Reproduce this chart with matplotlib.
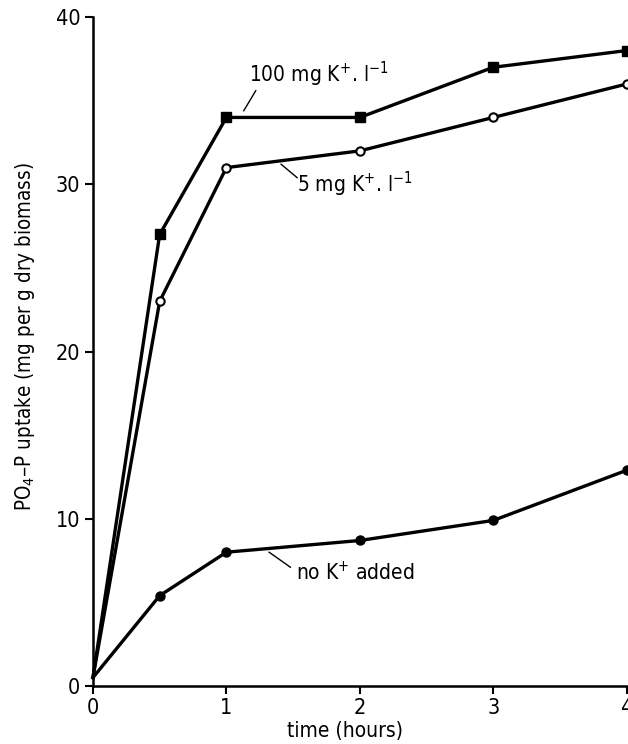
import matplotlib
matplotlib.use("Agg")
import matplotlib.pyplot as plt

plt.rcParams["font.family"] = ["DejaVu Sans"]
plt.rcParams["font.stretch"] = "condensed"
plt.rcParams["mathtext.fontset"] = "dejavusans"

# time in hours
hours = [0, 0.5, 1, 2, 3, 4]
# PO4-P uptake, mg per g dry biomass
k100 = [0.5, 27, 34, 34, 37, 38]
k5 = [0.5, 23, 31, 32, 34, 36]
no_k = [0.5, 5.4, 8, 8.7, 9.9, 12.9]

fig = plt.figure(figsize=(6.28, 7.44), dpi=100)
ax = fig.add_axes([0.148, 0.078, 0.85, 0.899])

# no marker drawn at the origin
marks = [1, 2, 3, 4, 5]
ax.plot(hours, k100, color="black", lw=2.4, marker="s", ms=6.5, markevery=marks,
        mfc="black", mec="black", clip_on=False, zorder=3)
ax.plot(hours, k5, color="black", lw=2.4, marker="o", ms=6, markevery=marks,
        mfc="white", mec="black", mew=1.5, clip_on=False, zorder=3)
ax.plot(hours, no_k, color="black", lw=2.4, marker="o", ms=6.5, markevery=marks,
        mfc="black", mec="black", clip_on=False, zorder=3)

ax.set_xlim(0, 4)
ax.set_ylim(0, 40)
ax.set_xticks([0, 1, 2, 3, 4])
ax.set_yticks([0, 10, 20, 30, 40])
ax.tick_params(direction="out", length=6, width=1.5, labelsize=15.5, pad=3)

for side in ["top", "right"]:
    ax.spines[side].set_visible(False)
for side in ["left", "bottom"]:
    ax.spines[side].set_linewidth(1.8)

ax.set_xlabel("time (hours)", fontsize=15)
ax.xaxis.set_label_coords(0.472, -0.052)
ax.set_ylabel("PO$_4$–P uptake (mg per g dry biomass)", fontsize=14.8)
ax.yaxis.set_label_coords(-0.105, 0.522)

# labels with leader lines
ax.text(1.17, 36.6, "100 mg K$^{+}$. l$^{-1}$", fontsize=15, va="center")
ax.plot([1.22, 1.13], [35.6, 34.4], color="black", lw=1)
ax.text(1.53, 30.0, "5 mg K$^{+}$. l$^{-1}$", fontsize=15, va="center")
ax.plot([1.41, 1.53], [31.2, 30.4], color="black", lw=1)
ax.text(1.52, 6.8, "no K$^{+}$ added", fontsize=15, va="center")
ax.plot([1.32, 1.48], [8.0, 7.1], color="black", lw=1)

fig.savefig("out.png", dpi=100)
